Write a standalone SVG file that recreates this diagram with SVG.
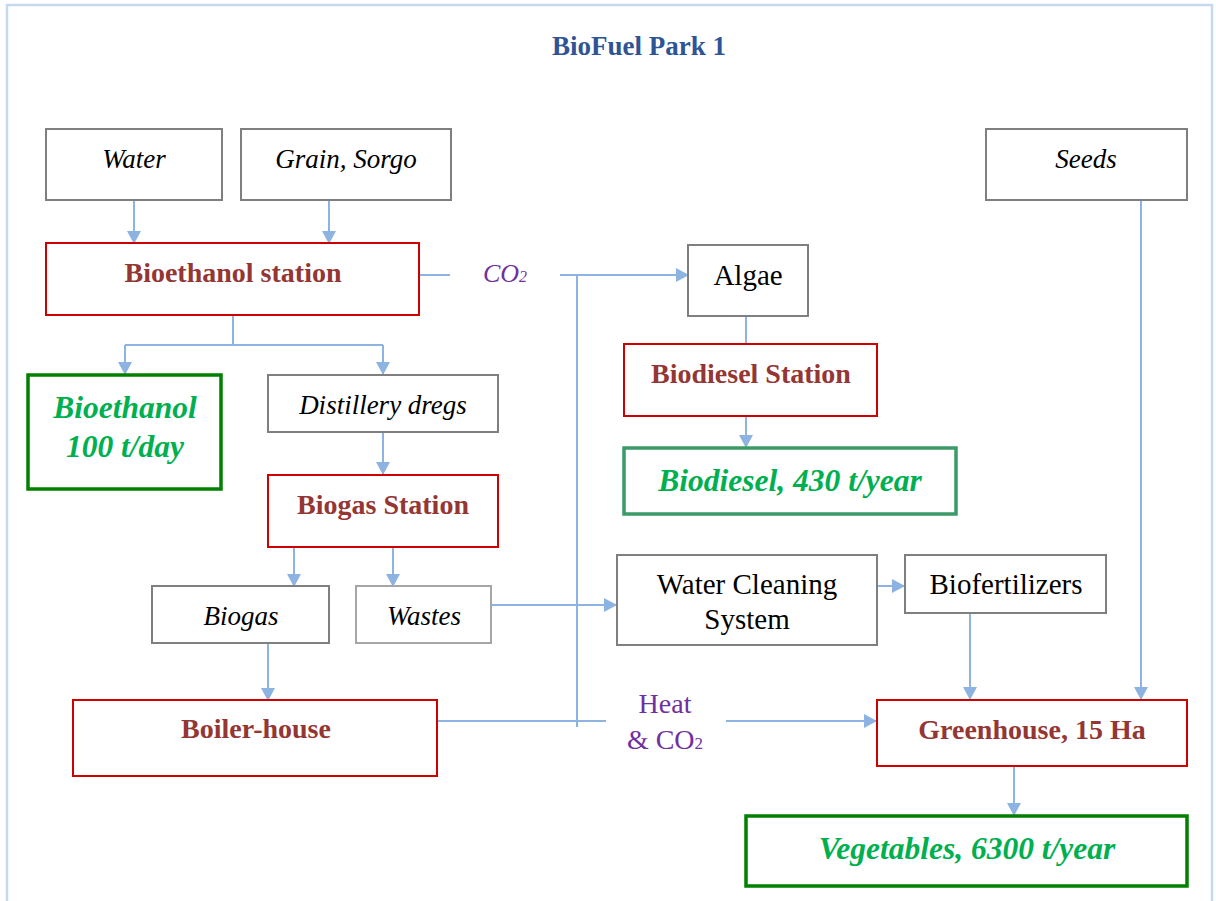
<svg xmlns="http://www.w3.org/2000/svg" width="1216" height="901" viewBox="0 0 1216 901">
<defs>
<marker id="ah" markerWidth="14" markerHeight="14" refX="12" refY="7" orient="auto" markerUnits="userSpaceOnUse">
<path d="M0,0 L13,7 L0,14 Z" fill="#8db3e2"/>
</marker>
<style>
.g{fill:#fff;stroke:#7f7f7f;stroke-width:2}
.gl{fill:#fff;stroke:#a6a6a6;stroke-width:2}
.r{fill:#fff;stroke:#d00000;stroke-width:2}
.gr{fill:#fff;stroke:#008000;stroke-width:3.5}
.gr2{fill:#fff;stroke:#3a9a68;stroke-width:3.5}
.c{fill:none;stroke:#8db3e2;stroke-width:2}
.a{marker-end:url(#ah)}
text{font-family:"Liberation Serif","Times New Roman",serif;text-anchor:middle}
.it{font-style:italic;font-size:27px;fill:#000}
.rg{font-size:29px;fill:#000}
.rb{font-weight:bold;font-size:28px;fill:#943634}
.gb{font-weight:bold;font-style:italic;font-size:31.5px;fill:#00b050}
.pu{fill:#7030a0;font-size:28px}
</style>
</defs>
<rect x="7" y="5" width="1205" height="910" fill="#fff" stroke="#c6d9f1" stroke-width="2.5"/>
<text x="639" y="55" style="font-weight:bold;font-size:27px;fill:#2f5496">BioFuel Park 1</text>

<g id="connectors">
<path class="c a" d="M134,200 V243"/>
<path class="c a" d="M329,200 V243"/>
<path class="c" d="M233,315 V345 M125,345 H383"/>
<path class="c a" d="M125,345 V374"/>
<path class="c a" d="M383,345 V374"/>
<path class="c a" d="M383,432 V474"/>
<path class="c a" d="M294,547 V586"/>
<path class="c a" d="M393,547 V586"/>
<path class="c a" d="M268,643 V700"/>
<path class="c" d="M419,275 H450"/>
<path class="c a" d="M560,275 H688"/>
<path class="c" d="M577,275 V727"/>
<path class="c" d="M437,721 H606"/>
<path class="c a" d="M726,721 H876"/>
<path class="c" d="M746,316 V344"/>
<path class="c a" d="M746,416 V447"/>
<path class="c a" d="M491,605 H616"/>
<path class="c a" d="M877,586 H904"/>
<path class="c a" d="M970,613 V699"/>
<path class="c a" d="M1141,200 V699"/>
<path class="c a" d="M1014,766 V815"/>
<text class="pu" x="505" y="282" style="font-style:italic;font-size:26px">CO<tspan font-size="16">2</tspan></text>
<text class="pu" x="665" y="713">Heat</text>
<text class="pu" x="665" y="749">&amp; CO<tspan font-size="17">2</tspan></text>
</g>

<g id="water"><rect class="g" x="46" y="129" width="176" height="71"/><text class="it" x="134" y="168">Water</text></g>
<g id="grain"><rect class="g" x="241" y="129" width="210" height="71"/><text class="it" x="346" y="168">Grain, Sorgo</text></g>
<g id="seeds"><rect class="g" x="986" y="129" width="201" height="71"/><text class="it" x="1086" y="168">Seeds</text></g>
<g id="bioethanol-station"><rect class="r" x="46" y="243" width="373" height="72"/><text class="rb" x="233" y="282">Bioethanol station</text></g>
<g id="bioethanol"><rect class="gr" x="28" y="375" width="193" height="114"/><text class="gb" x="125" y="418">Bioethanol</text><text class="gb" x="125" y="457">100 t/day</text></g>
<g id="dregs"><rect class="g" x="268" y="375" width="230" height="57"/><text class="it" x="383" y="414">Distillery dregs</text></g>
<g id="biogas-station"><rect class="r" x="268" y="475" width="230" height="72"/><text class="rb" x="383" y="514">Biogas Station</text></g>
<g id="biogas"><rect class="g" x="152" y="586" width="177" height="57"/><text class="it" x="241" y="625">Biogas</text></g>
<g id="wastes"><rect class="gl" x="356" y="586" width="135" height="57"/><text class="it" x="424" y="625">Wastes</text></g>
<g id="boiler"><rect class="r" x="73" y="700" width="364" height="76"/><text class="rb" x="256" y="738">Boiler-house</text></g>
<g id="algae"><rect class="g" x="688" y="245" width="120" height="71"/><text class="rg" x="748" y="285">Algae</text></g>
<g id="biodiesel-station"><rect class="r" x="624" y="344" width="253" height="72"/><text class="rb" x="751" y="383">Biodiesel Station</text></g>
<g id="biodiesel"><rect class="gr2" x="624" y="448" width="332" height="66"/><text class="gb" x="790" y="491">Biodiesel, 430 t/year</text></g>
<g id="water-cleaning"><rect class="g" x="617" y="555" width="260" height="90"/><text class="rg" x="747" y="594">Water Cleaning</text><text class="rg" x="747" y="629">System</text></g>
<g id="biofertilizers"><rect class="g" x="905" y="555" width="201" height="58"/><text class="rg" x="1006" y="594">Biofertilizers</text></g>
<g id="greenhouse"><rect class="r" x="877" y="700" width="310" height="66"/><text class="rb" x="1032" y="739">Greenhouse, 15 Ha</text></g>
<g id="vegetables"><rect class="gr" x="746" y="816" width="441" height="70"/><text class="gb" x="967" y="859">Vegetables, 6300 t/year</text></g>
</svg>
